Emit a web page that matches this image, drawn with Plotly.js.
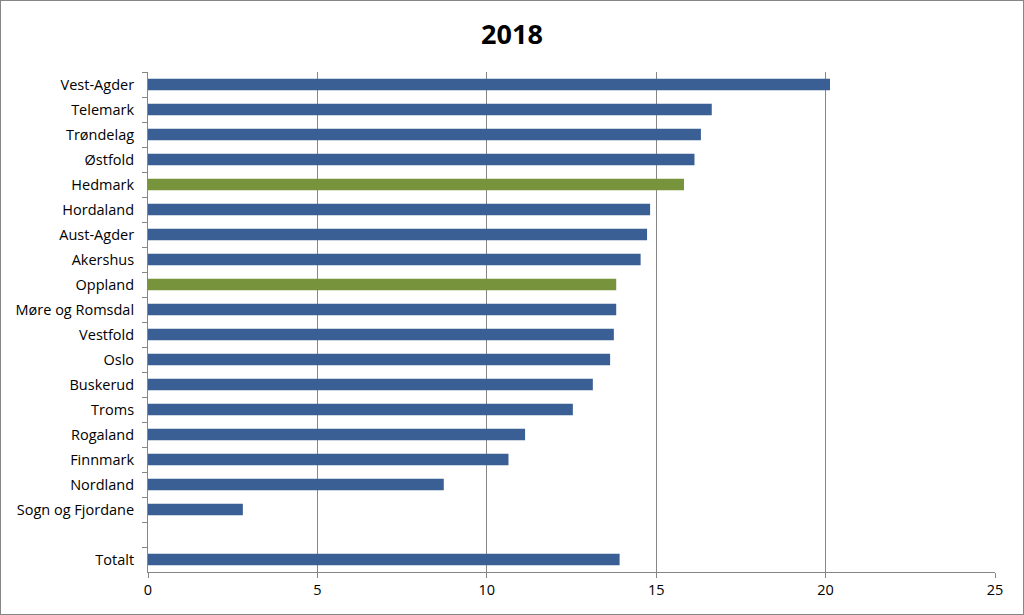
<!DOCTYPE html>
<html><head><meta charset="utf-8">
<script src="https://cdn.plot.ly/plotly-3.0.1.min.js"></script>
<style>html,body{margin:0;padding:0;background:#fff}#c{width:1022px;height:613px;border:1px solid #868686}</style>
</head><body><div id="c"></div>
<script>
const categories = ["Vest-Agder","Telemark","Trøndelag","Østfold","Hedmark","Hordaland","Aust-Agder","Akershus","Oppland","Møre og Romsdal","Vestfold","Oslo","Buskerud","Troms","Rogaland","Finnmark","Nordland","Sogn og Fjordane"," ","Totalt"];
const values = [20.13,16.64,16.32,16.13,15.82,14.82,14.73,14.54,13.82,13.82,13.75,13.64,13.13,12.54,11.13,10.64,8.73,2.80,null,13.92];
const highlighted = ["Hedmark","Oppland"];
const blue = "#3A5F95", green = "#77933C";
const colors = categories.map(c => highlighted.includes(c) ? green : blue);
const tickVals = [0,5,10,15,20,25];
const fam = "Open Sans, Liberation Sans, sans-serif";

Plotly.newPlot("c", [{
  type: "bar", orientation: "h",
  y: categories, x: values,
  marker: {color: colors},
  hoverinfo: "x+y"
}], {
  width: 1022, height: 613,
  margin: {l: 147, r: 28, t: 71, b: 42},
  paper_bgcolor: "#fff", plot_bgcolor: "#fff",
  bargap: 0.54,
  font: {family: fam, size: 14, color: "#000"},
  title: {text: "<b>2018</b>", x: 0.5, xref: "container", y: 0.945, yanchor: "middle",
          font: {size: 27, family: fam, color: "#000"}},
  xaxis: {range: [0, 25], tickvals: tickVals, showgrid: true, gridcolor: "#868686", gridwidth: 1,
          zeroline: false, showline: true, linecolor: "#868686", linewidth: 1,
          ticks: "outside", ticklen: 5, tickcolor: "#868686", fixedrange: true,
          tickfont: {size: 14.5}},
  yaxis: {type: "category", categoryorder: "array", categoryarray: categories,
          autorange: "reversed", showgrid: false, showline: true, linecolor: "#868686", linewidth: 1,
          ticks: "outside", ticklen: 5, tickcolor: "#868686", tickson: "boundaries",
          ticklabelstandoff: 10,
          fixedrange: true, tickfont: {size: 14.5}},
  showlegend: false
}, {displayModeBar: false, staticPlot: true});
</script></body></html>
